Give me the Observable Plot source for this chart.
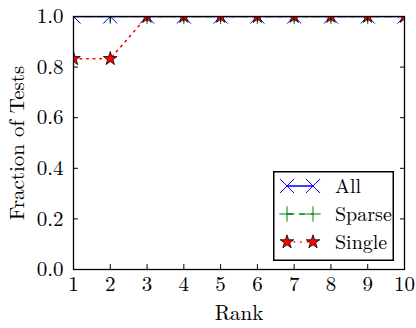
<!DOCTYPE html>
<html><head><meta charset="utf-8">
<script src="https://cdn.jsdelivr.net/npm/d3@7"></script>
<script src="https://cdn.jsdelivr.net/npm/@observablehq/plot@0.6"></script>
<style>
body{margin:0;background:#fff;}
#wrap{position:relative;width:416px;height:328px;font-family:"Latin Modern Roman","Liberation Serif",serif;}
#legend{position:absolute;left:273px;top:171px;}
</style></head>
<body><div id="wrap"></div>
<script>
const ranks = [1,2,3,4,5,6,7,8,9,10];
const allVals = [1,1,1,1,1,1,1,1,1,1];
const sparseVals = [1,1,1,1,1,1,1,1,1,1];
const singleVals = [0.833,0.833,1,1,1,1,1,1,1,1];
const seriesNames = ["All","Sparse","Single"];
const seriesColors = ["#0000ff","#008000","#ff0000"];
const xTicks = [1,2,3,4,5,6,7,8,9,10];
const yTicks = [0,0.2,0.4,0.6,0.8,1.0];

const mk = vals => ranks.map((r,i)=>({rank:r, v:vals[i]}));
const dAll = mk(allVals), dSparse = mk(sparseVals), dSingle = mk(singleVals);

const font = "'Latin Modern Roman', 'Liberation Serif', serif";
const fs = 21;
const chart = Plot.plot({
  width: 416, height: 328,
  marginLeft: 73, marginRight: 12, marginTop: 16, marginBottom: 59,
  style: {fontFamily: font, fontSize: fs + "px", background: "white", color: "black"},
  x: {domain: [1,10]},
  y: {domain: [0,1]},
  marks: [
    Plot.line(dAll, {x:"rank", y:"v", stroke: seriesColors[0], strokeWidth: 1.5, clip: "frame"}),
    Plot.dot(dAll, {x:"rank", y:"v", symbol:"times", r:6.5, stroke: seriesColors[0], strokeWidth:1, clip:"frame"}),
    Plot.line(dSparse, {x:"rank", y:"v", stroke: seriesColors[1], strokeWidth: 1.5, strokeDasharray:"6,6", clip: "frame"}),
    Plot.dot(dSparse, {x:"rank", y:"v", symbol:"plus", r:5, stroke: seriesColors[1], strokeWidth:1, clip:"frame"}),
    Plot.line(dSingle, {x:"rank", y:"v", stroke: seriesColors[2], strokeWidth: 1.6, strokeDasharray:"1.6,5", clip: "frame"}),
    Plot.dot(dSingle, {x:"rank", y:"v", symbol:"star", r:4.3, fill: seriesColors[2], stroke:"black", strokeWidth:0.8, clip:"frame"}),
    Plot.axisX(xTicks, {anchor:"bottom", tickSize:-5, tickPadding:12, label:null, fontSize:fs, fontFamily:font}),
    Plot.axisX(xTicks, {anchor:"top", tickSize:-5, tickFormat:()=>"", label:null}),
    Plot.axisY(yTicks, {anchor:"left", tickSize:-5, tickPadding:15, tickFormat:d3.format(".1f"), label:null, fontSize:fs, fontFamily:font}),
    Plot.axisY(yTicks, {anchor:"right", tickSize:-5, tickFormat:()=>"", label:null}),
    Plot.frame({stroke:"black", strokeWidth:1.3}),
    Plot.text(["Rank"], {frameAnchor:"bottom", textAnchor:"middle", dy:50, fontSize:fs, fontFamily:font}),
    Plot.text(["Fraction of Tests"], {frameAnchor:"left", textAnchor:"middle", rotate:-90, dx:-56, fontSize:fs, fontFamily:font})
  ]
});
const wrap = document.getElementById("wrap");
wrap.appendChild(chart);

// legend
const lg = d3.select(wrap).append("svg").attr("id","legend").attr("width",122).attr("height",90).style("overflow","visible");
lg.append("rect").attr("x",0.75).attr("y",0.75).attr("width",119.5).attr("height",88.5).attr("fill","white").attr("stroke","black").attr("stroke-width",1.5);
const rows = [15,43,71];
const syms = [d3.symbolTimes, d3.symbolPlus, d3.symbolStar];
const symR = [6.5,5,4.3];
const dashes = [null,"6,6","1.6,5"];
seriesNames.forEach((name,i)=>{
  const y = rows[i];
  lg.append("line").attr("x1",14).attr("x2",40).attr("y1",y).attr("y2",y).attr("stroke",seriesColors[i]).attr("stroke-width",1.5).attr("stroke-dasharray",dashes[i]);
  [14,40].forEach(x=>{
    const p = lg.append("path").attr("transform",`translate(${x},${y})`).attr("d", d3.symbol(syms[i], Math.PI*symR[i]*symR[i])());
    if(i===2){ p.attr("fill",seriesColors[i]).attr("stroke","black").attr("stroke-width",0.8); }
    else { p.attr("fill","none").attr("stroke",seriesColors[i]).attr("stroke-width",1); }
  });
  lg.append("text").attr("x",62).attr("y",y).attr("dy","0.35em").style("font-family",font).attr("font-size",20).text(name);
});
</script></body></html>
